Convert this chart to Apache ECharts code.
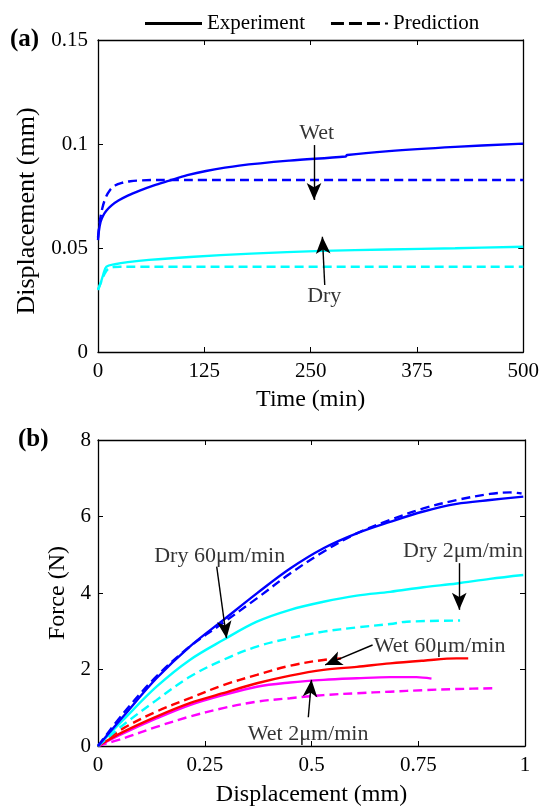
<!DOCTYPE html>
<html>
<head>
<meta charset="utf-8">
<script src="https://cdn.jsdelivr.net/npm/echarts@6/dist/echarts.min.js"></script>
<style>
html,body{margin:0;padding:0;background:#fff;}
#chart{width:542px;height:808px;}
</style>
</head>
<body>
<div id="chart"></div>
<script>
// ---------- Panel (a): displacement vs time ----------
const timeTicks = [0, 125, 250, 375, 500];
const dispTicks = [0, 0.05, 0.1, 0.15];

const tWetExp  = [0, 1, 3, 6, 10, 16, 24, 35, 49, 65, 84, 105, 127, 166, 225, 291, 293, 342, 420, 500];
const dWetExp  = [0.0538, 0.058, 0.0625, 0.0655, 0.0680, 0.0705, 0.0728, 0.0752, 0.0776, 0.0800, 0.0824, 0.0850, 0.0870, 0.0896, 0.0920, 0.0940, 0.0947, 0.0966, 0.0986, 0.1002];
const tWetPred = [0, 2, 5, 9, 14, 20, 28, 38, 50, 70, 500];
const dWetPred = [0.055, 0.0625, 0.0690, 0.0742, 0.0778, 0.0800, 0.0813, 0.0821, 0.0825, 0.0827, 0.0827];
const tDryExp  = [0, 3, 6, 10, 20, 35, 60, 108, 180, 264, 340, 420, 500];
const dDryExp  = [0.0298, 0.0330, 0.0370, 0.0410, 0.0422, 0.0432, 0.0443, 0.0457, 0.0473, 0.0486, 0.0493, 0.0499, 0.0506];
const tDryPred = [0, 4, 8, 12, 18, 26, 500];
const dDryPred = [0.030, 0.0340, 0.0378, 0.0400, 0.0408, 0.0410, 0.0410];

// ---------- Panel (b): force vs displacement ----------
const dispTicksB = [0, 0.25, 0.5, 0.75, 1];
const forceTicks = [0, 2, 4, 6, 8];

const xDry60Exp  = [0, 0.059, 0.137, 0.215, 0.293, 0.372, 0.45, 0.528, 0.606, 0.684, 0.762, 0.84, 0.918, 0.996];
const fDry60Exp  = [0, 0.77, 1.77, 2.6, 3.29, 3.99, 4.64, 5.17, 5.56, 5.86, 6.13, 6.33, 6.43, 6.52];
const xDry60Pred = [0, 0.059, 0.137, 0.215, 0.293, 0.372, 0.45, 0.528, 0.606, 0.684, 0.762, 0.84, 0.918, 0.965, 0.992];
const fDry60Pred = [0, 0.85, 1.82, 2.6, 3.22, 3.86, 4.51, 5.08, 5.56, 5.91, 6.21, 6.43, 6.59, 6.63, 6.6];
const xDry2Exp   = [0, 0.059, 0.137, 0.215, 0.293, 0.372, 0.45, 0.528, 0.606, 0.684, 0.762, 0.84, 0.918, 0.996];
const fDry2Exp   = [0, 0.68, 1.55, 2.25, 2.77, 3.25, 3.56, 3.77, 3.93, 4.03, 4.15, 4.25, 4.37, 4.47];
const xDry2Pred  = [0, 0.059, 0.137, 0.215, 0.293, 0.372, 0.45, 0.528, 0.606, 0.684, 0.723, 0.848];
const fDry2Pred  = [0, 0.55, 1.2, 1.81, 2.25, 2.6, 2.82, 2.99, 3.1, 3.19, 3.25, 3.28];
const xWet60Exp  = [0, 0.059, 0.137, 0.215, 0.293, 0.372, 0.45, 0.528, 0.606, 0.684, 0.762, 0.84, 0.867];
const fWet60Exp  = [0, 0.37, 0.77, 1.12, 1.38, 1.64, 1.84, 1.99, 2.07, 2.16, 2.23, 2.29, 2.29];
const xWet60Pred = [0, 0.059, 0.137, 0.215, 0.293, 0.372, 0.45, 0.528, 0.575];
const fWet60Pred = [0, 0.46, 0.9, 1.25, 1.59, 1.86, 2.1, 2.25, 2.29];
const xWet2Exp   = [0, 0.059, 0.137, 0.215, 0.293, 0.372, 0.45, 0.528, 0.606, 0.684, 0.746, 0.781];
const fWet2Exp   = [0, 0.33, 0.72, 1.07, 1.33, 1.55, 1.66, 1.73, 1.77, 1.8, 1.8, 1.76];
const xWet2Pred  = [0, 0.059, 0.137, 0.215, 0.293, 0.372, 0.45, 0.528, 0.606, 0.684, 0.762, 0.84, 0.934];
const fWet2Pred  = [0, 0.2, 0.5, 0.77, 0.99, 1.16, 1.25, 1.33, 1.38, 1.42, 1.46, 1.49, 1.51];

// annotation labels [x, y, text] and arrows [x1, y1, x2, y2] (data units)
const labelsA = [[257, 0.105, 'Wet'], [266, 0.0266, 'Dry']];
const arrowsA = [[254, 0.0995, 254, 0.0731], [266.6, 0.0322, 263.8, 0.0554]];
const labelsB = [[0.285, 4.95, 'Dry 60μm/min'], [0.855, 5.08, 'Dry 2μm/min'], [0.80, 2.6, 'Wet 60μm/min'], [0.492, 0.31, 'Wet 2μm/min']];
const arrowsB = [[0.278, 4.69, 0.301, 2.82], [0.846, 4.78, 0.846, 3.56], [0.643, 2.64, 0.532, 2.12], [0.4925, 0.75, 0.5, 1.73]];

const legendNames = ['Experiment', 'Prediction'];

const FONT = 'Liberation Serif';
const zip = (a, b) => a.map((v, i) => [v, b[i]]);

function lineSeries(name, xs, ys, color, dashed, xi, yi) {
  return {
    type: 'line', name: name, xAxisIndex: xi, yAxisIndex: yi,
    data: zip(xs, ys), showSymbol: false, symbol: 'none',
    smooth: 0.35,
    lineStyle: { color: color, width: 2.4, type: dashed ? [9, 5] : 'solid' },
    itemStyle: { color: color }, silent: true
  };
}

function annotSeries(labels, arrows, xi, yi) {
  return {
    type: 'scatter', xAxisIndex: xi, yAxisIndex: yi, symbolSize: 0, silent: true,
    data: labels,
    label: { show: true, position: 'inside', formatter: p => p.value[2],
             color: '#000', fontFamily: FONT, fontSize: 22 },
    markLine: {
      silent: true, animation: false,
      symbol: ['none', 'arrow'],
      lineStyle: { color: '#000', width: 1.4, type: 'solid' },
      label: { show: false },
      data: arrows.map(a => [
        { coord: [a[0], a[1]], symbol: 'none' },
        { coord: [a[2], a[3]], symbol: 'arrow', symbolSize: [11, 17] }
      ])
    }
  };
}

function axisCommon(extra) {
  return Object.assign({
    type: 'value',
    axisLine: { show: true, onZero: false, lineStyle: { color: '#000', width: 1.3 } },
    axisTick: { show: true, inside: true, length: 5, lineStyle: { color: '#000', width: 1 } },
    splitLine: { show: false },
    axisLabel: { color: '#000', fontFamily: FONT, fontSize: 21 },
    nameTextStyle: { color: '#000', fontFamily: FONT, fontSize: 24 }
  }, extra);
}

const chart = echarts.init(document.getElementById('chart'), null, { renderer: 'canvas' });
const option = {
  animation: false,
  backgroundColor: '#fff',
  legend: {
    data: [
      { name: legendNames[0], icon: 'path://M0,0 H57 V3 H0 Z' },
      { name: legendNames[1], icon: 'path://M0,0 H13 V3 H0 Z M18,0 H31 V3 H18 Z M36,0 H49 V3 H36 Z M54,0.5 H57 V2.5 H54 Z' }
    ],
    left: 140, top: 8, itemWidth: 57, itemHeight: 3, itemGap: 26,
    itemStyle: { color: '#000' },
    textStyle: { color: '#000', fontFamily: FONT, fontSize: 21 },
    selectedMode: false
  },
  graphic: [
    { type: 'text', left: 10, top: 27, style: { text: '(a)', font: 'bold 25px "Liberation Serif"', fill: '#000' } },
    { type: 'text', left: 18, top: 427, style: { text: '(b)', font: 'bold 25px "Liberation Serif"', fill: '#000' } }
  ],
  grid: [
    { left: 98, top: 40, width: 427, height: 312 },
    { left: 98, top: 440, width: 427, height: 306 }
  ],
  xAxis: [
    axisCommon({ gridIndex: 0, min: timeTicks[0], max: timeTicks[timeTicks.length - 1], interval: 125,
      name: 'Time (min)', nameLocation: 'middle', nameGap: 36, axisLabel: { color: '#000', fontFamily: FONT, fontSize: 21, margin: 9 } }),
    axisCommon({ gridIndex: 0, position: 'top', min: 0, max: 500, interval: 125, axisLabel: { show: false } }),
    axisCommon({ gridIndex: 1, min: dispTicksB[0], max: dispTicksB[dispTicksB.length - 1], interval: 0.25,
      name: 'Displacement (mm)', nameLocation: 'middle', nameGap: 37, axisLabel: { color: '#000', fontFamily: FONT, fontSize: 21, margin: 9 } }),
    axisCommon({ gridIndex: 1, position: 'top', min: 0, max: 1, interval: 0.25, axisLabel: { show: false } })
  ],
  yAxis: [
    axisCommon({ gridIndex: 0, min: dispTicks[0], max: dispTicks[dispTicks.length - 1], interval: 0.05,
      name: 'Displacement (mm)', nameLocation: 'middle', nameGap: 56, nameRotate: 90,
      nameTextStyle: { color: '#000', fontFamily: FONT, fontSize: 26, padding: [0, 30, 0, 0] },
      axisLabel: { color: '#000', fontFamily: FONT, fontSize: 21, margin: 10 } }),
    axisCommon({ gridIndex: 0, position: 'right', min: 0, max: 0.15, interval: 0.05, axisLabel: { show: false } }),
    axisCommon({ gridIndex: 1, min: forceTicks[0], max: forceTicks[forceTicks.length - 1], interval: 2,
      name: 'Force (N)', nameLocation: 'middle', nameGap: 28, nameRotate: 90,
      axisLabel: { color: '#000', fontFamily: FONT, fontSize: 21, margin: 7 } }),
    axisCommon({ gridIndex: 1, position: 'right', min: 0, max: 8, interval: 2, axisLabel: { show: false } })
  ],
  series: [
    { type: 'line', name: legendNames[0], xAxisIndex: 0, yAxisIndex: 0, data: [], symbol: 'none',
      lineStyle: { color: '#000', width: 3, type: 'solid' }, itemStyle: { color: '#000' } },
    { type: 'line', name: legendNames[1], xAxisIndex: 0, yAxisIndex: 0, data: [], symbol: 'none',
      lineStyle: { color: '#000', width: 3, type: [9, 5] }, itemStyle: { color: '#000' } },

    lineSeries('Wet exp', tWetExp, dWetExp, '#0000ff', false, 0, 0),
    lineSeries('Wet pred', tWetPred, dWetPred, '#0000ff', true, 0, 0),
    lineSeries('Dry exp', tDryExp, dDryExp, '#00ffff', false, 0, 0),
    lineSeries('Dry pred', tDryPred, dDryPred, '#00ffff', true, 0, 0),
    annotSeries(labelsA, arrowsA, 0, 0),

    lineSeries('Wet 2 pred', xWet2Pred, fWet2Pred, '#ff00ff', true, 2, 2),
    lineSeries('Wet 2 exp', xWet2Exp, fWet2Exp, '#ff00ff', false, 2, 2),
    lineSeries('Wet 60 pred', xWet60Pred, fWet60Pred, '#ff0000', true, 2, 2),
    lineSeries('Wet 60 exp', xWet60Exp, fWet60Exp, '#ff0000', false, 2, 2),
    lineSeries('Dry 2 pred', xDry2Pred, fDry2Pred, '#00ffff', true, 2, 2),
    lineSeries('Dry 2 exp', xDry2Exp, fDry2Exp, '#00ffff', false, 2, 2),
    lineSeries('Dry 60 exp', xDry60Exp, fDry60Exp, '#0000ff', false, 2, 2),
    lineSeries('Dry 60 pred', xDry60Pred, fDry60Pred, '#0000ff', true, 2, 2),
    annotSeries(labelsB, arrowsB, 2, 2)
  ]
};
chart.setOption(option);
</script>
</body>
</html>
